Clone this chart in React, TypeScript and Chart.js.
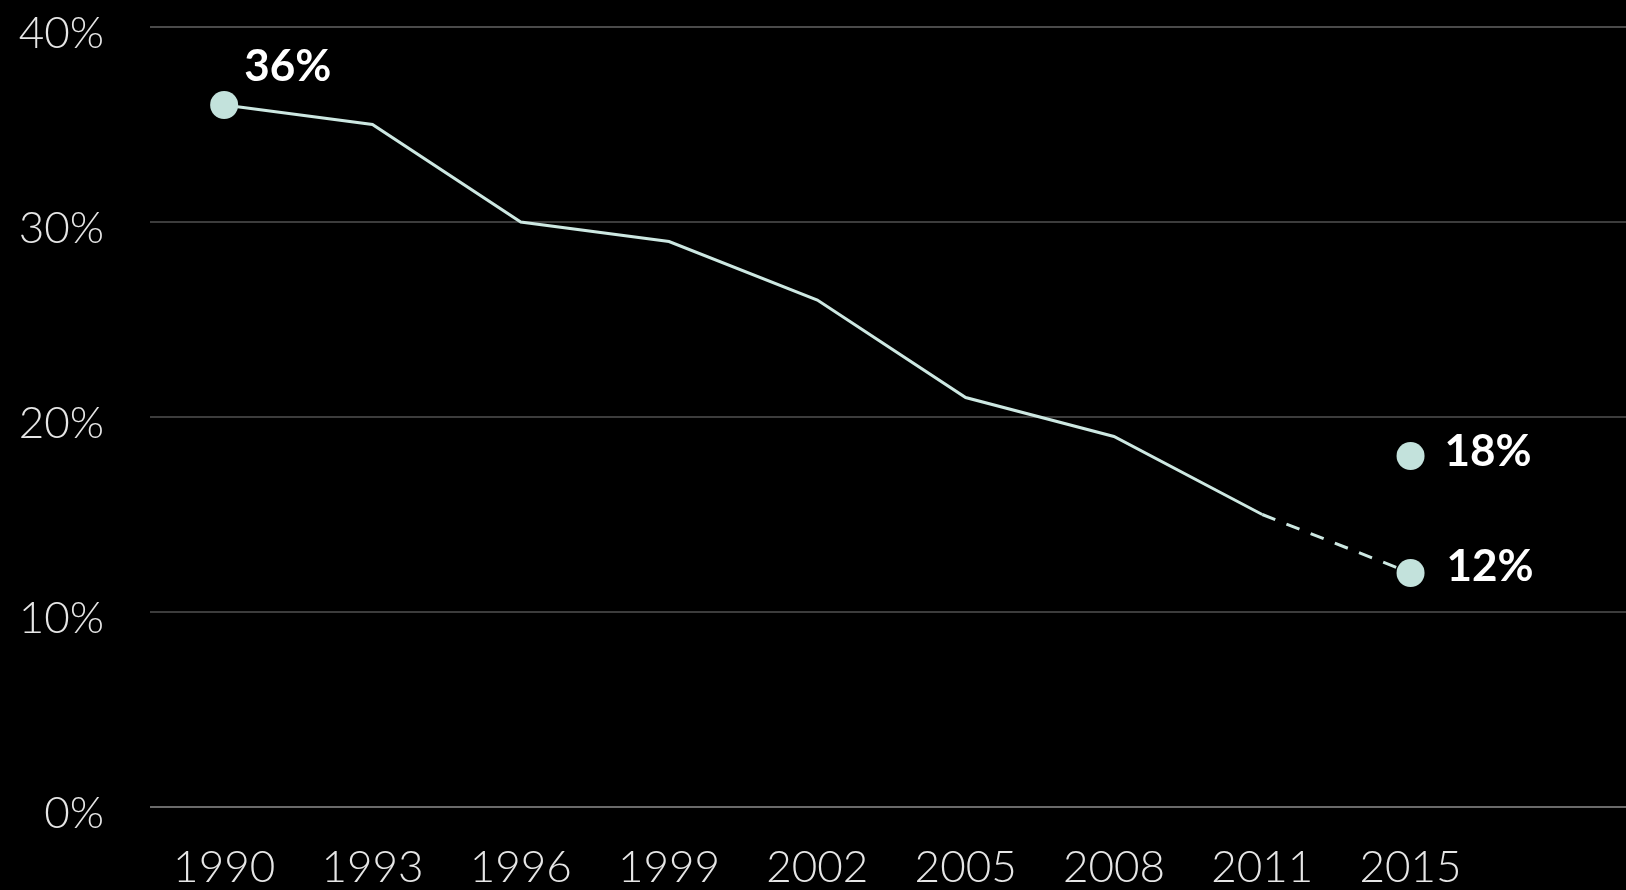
import React, { useEffect, useRef } from "react";
import { Chart, registerables } from "chart.js";

Chart.register(...registerables);

// Category labels (trailing blank slot leaves room for the end labels)
const years = ["1990", "1993", "1996", "1999", "2002", "2005", "2008", "2011", "2015", ""];
// Observed share, 1990–2011
const observedRate = [36, 35, 30, 29, 26, 21, 19, 15];
// Projected trend, 2011 → 2015
const projectedRate = [15, 12];
// Target for 2015
const targetRate = 18;
// Y-axis ticks
const yTicks = [0, 10, 20, 30, 40];

const MINT = "#c3e2dc";
const LINE = "#cde8e2";
const FONT = "Lato, 'Open Sans', sans-serif";

const pad = (arr: (number | null)[], start: number) => {
  const out: (number | null)[] = years.map(() => null);
  arr.forEach((v, i) => (out[start + i] = v));
  return out;
};

const observedData = pad(observedRate, 0);
const projectedData = pad(projectedRate, observedRate.length - 1);
const targetData = pad([targetRate], years.indexOf("2015"));

const pointLabels = {
  id: "pointLabels",
  afterDatasetsDraw(chart: any) {
    const { ctx } = chart;
    ctx.save();
    ctx.fillStyle = "#ffffff";
    ctx.font = `700 44px ${FONT}`;
    ctx.textAlign = "left";
    ctx.textBaseline = "middle";
    const put = (dsIndex: number, idx: number, value: number, dx: number, dy: number) => {
      const pt = chart.getDatasetMeta(dsIndex).data[idx];
      if (!pt) return;
      ctx.fillText(`${value}%`, pt.x + dx, pt.y + dy);
    };
    put(0, 0, observedRate[0], 20, -38);
    const i2015 = years.indexOf("2015");
    put(2, i2015, targetRate, 34, -4);
    put(1, i2015, projectedRate[projectedRate.length - 1], 36, -6);
    ctx.restore();
  },
};

export default function App() {
  const canvasRef = useRef<HTMLCanvasElement | null>(null);

  useEffect(() => {
    if (!canvasRef.current) return;
    const i2015 = years.indexOf("2015");
    const chart = new Chart(canvasRef.current, {
      type: "line",
      data: {
        labels: years,
        datasets: [
          {
            data: observedData,
            borderColor: LINE,
            borderWidth: 3,
            pointRadius: observedData.map((_, i) => (i === 0 ? 14 : 0)),
            pointBackgroundColor: MINT,
            pointBorderWidth: 0,
            tension: 0,
            clip: false,
          },
          {
            data: projectedData,
            borderColor: LINE,
            borderWidth: 3,
            borderDash: [14, 12],
            pointRadius: projectedData.map((_, i) => (i === i2015 ? 14 : 0)),
            pointBackgroundColor: MINT,
            pointBorderWidth: 0,
            tension: 0,
            clip: false,
          },
          {
            data: targetData,
            showLine: false,
            pointRadius: 14,
            pointBackgroundColor: MINT,
            pointBorderWidth: 0,
            clip: false,
          },
        ],
      },
      options: {
        animation: false,
        responsive: false,
        maintainAspectRatio: false,
        layout: { autoPadding: false, padding: { top: 27, right: 0, bottom: 0, left: 0 } },
        plugins: {
          legend: { display: false },
          tooltip: { enabled: false },
        },
        scales: {
          x: {
            offset: true,
            grid: { display: false, drawTicks: false },
            border: { display: false },
            ticks: {
              color: "#e6e6e6",
              font: { family: FONT, size: 44, weight: 300 },
              padding: 34,
              maxRotation: 0,
              autoSkip: false,
            },
            afterFit(scale: any) {
              scale.height = 83;
              scale.paddingLeft = 0;
              scale.paddingRight = 0;
            },
          },
          y: {
            min: 0,
            max: 40,
            afterBuildTicks(scale: any) {
              scale.ticks = yTicks.map((v) => ({ value: v }));
            },
            grid: {
              drawTicks: false,
              lineWidth: 2,
              color: (c: any) =>
                c.tick && c.tick.value === 0
                  ? "#6a6a6a"
                  : c.tick && c.tick.value === 40
                  ? "#4a4a4a"
                  : "#3c3c3c",
            },
            border: { display: false },
            ticks: {
              color: "#e6e6e6",
              font: { family: FONT, size: 44, weight: 300 },
              padding: 46,
              labelOffset: 7,
              callback: (v: any) => `${v}%`,
            },
            afterFit(scale: any) {
              scale.width = 150;
              scale.paddingTop = 0;
              scale.paddingBottom = 0;
            },
          },
        },
      },
      plugins: [pointLabels],
    });
    return () => chart.destroy();
  }, []);

  return (
    <div
      style={{
        position: "fixed",
        left: 0,
        top: 0,
        width: 1626,
        height: 890,
        overflow: "hidden",
        background: "#000",
      }}
    >
      <canvas ref={canvasRef} width={1633} height={890} style={{ display: "block" }} />
    </div>
  );
}
